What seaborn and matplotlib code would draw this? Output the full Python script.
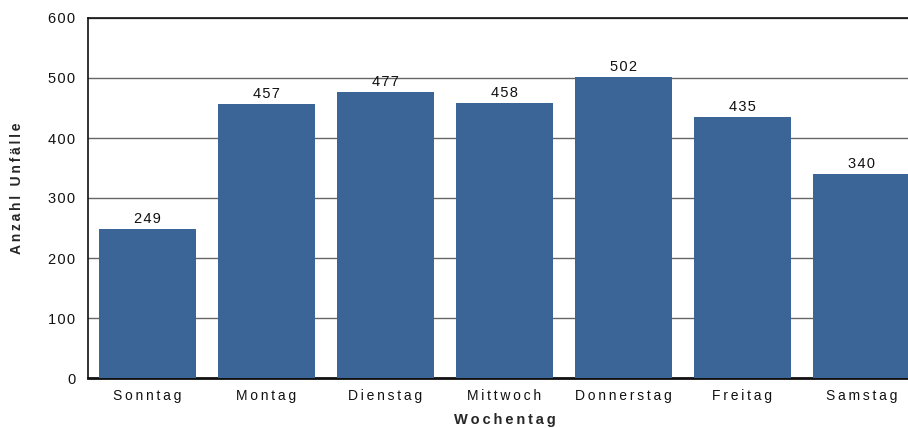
import matplotlib.pyplot as plt
import pandas as pd
import seaborn as sns

# Unfälle nach Wochentag
days = ["Sonntag", "Montag", "Dienstag", "Mittwoch", "Donnerstag", "Freitag", "Samstag"]
counts = [249, 457, 477, 458, 502, 435, 340]
y_ticks = [0, 100, 200, 300, 400, 500, 600]

BAR_COLOR = "#3a6596"


def spaced(text, gap="\u2009"):
    # loose letter spacing like the original labels
    return gap.join(text)


def main():
    df = pd.DataFrame({"Wochentag": days, "Anzahl": counts})

    sns.set_theme(style="white")
    plt.rcParams["font.family"] = ["Liberation Sans", "DejaVu Sans"]

    fig = plt.figure(figsize=(9.08, 4.28), dpi=100)
    # axes runs slightly past the right edge, as in the reference
    ax = fig.add_axes([88 / 908, 50 / 428, 833 / 908, 360 / 428])

    sns.barplot(data=df, x="Wochentag", y="Anzahl", color=BAR_COLOR,
                width=97 / 119, saturation=1, linewidth=0, ax=ax, zorder=3)

    ax.set_xlim(-0.5, len(days) - 0.5)
    ax.set_ylim(0, 600)
    ax.set_yticks(y_ticks)
    ax.set_yticklabels([spaced(str(t), "\u200a") for t in y_ticks])
    ax.yaxis.grid(True, color="#666666", linewidth=1.0, zorder=0)
    ax.set_axisbelow(True)

    for i, v in enumerate(counts):
        ax.text(i, v + 5, spaced(str(v), "\u200a"), ha="center", va="bottom",
                fontsize=10.5, color="#111111")

    ax.set_xticks(range(len(days)))
    ax.set_xticklabels([spaced(d) for d in days], fontsize=10, color="#111111")
    ax.tick_params(axis="y", labelsize=10.5, colors="#111111", length=0, pad=9)
    ax.tick_params(axis="x", length=0, pad=8)

    ax.set_xlabel(spaced("Wochentag"), fontsize=10.5, fontweight="bold", labelpad=7)
    ax.set_ylabel(spaced("Anzahl Unfälle"), fontsize=10, fontweight="bold")
    ax.yaxis.set_label_coords(-0.077, 0.528)

    for side in ["left", "bottom", "top"]:
        ax.spines[side].set_visible(True)
        ax.spines[side].set_color("#111111")
    ax.spines["left"].set_linewidth(1.2)
    ax.spines["top"].set_linewidth(1.2)
    ax.spines["bottom"].set_linewidth(2)
    ax.spines["right"].set_visible(False)

    plt.savefig("out.png", dpi=100)


if __name__ == "__main__":
    main()
